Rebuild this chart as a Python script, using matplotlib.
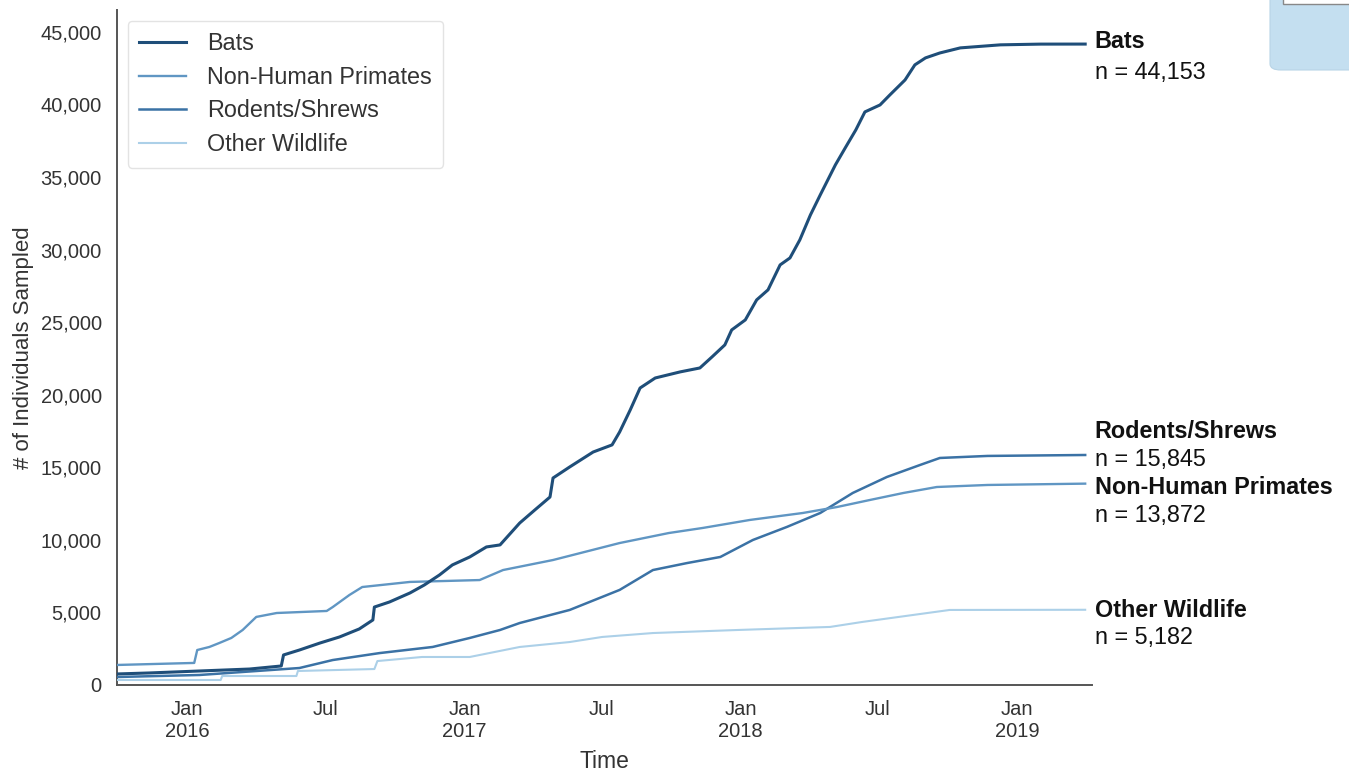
import matplotlib
matplotlib.use("Agg")
import matplotlib.pyplot as plt
from matplotlib.patches import FancyBboxPatch
from matplotlib.ticker import FuncFormatter
import pandas as pd

plt.rcParams['font.family'] = ['Liberation Sans', 'DejaVu Sans']

# ---------------- data ----------------
bats_dates = ['2015-09-30', '2015-11-12', '2016-01-17', '2016-03-23', '2016-05-04', '2016-05-07',
              '2016-05-28', '2016-06-24', '2016-07-20', '2016-08-15', '2016-09-02', '2016-09-04',
              '2016-09-24', '2016-10-21', '2016-11-09', '2016-11-29', '2016-12-16', '2017-01-08',
              '2017-01-30', '2017-02-17', '2017-03-15', '2017-04-04', '2017-04-24', '2017-04-28',
              '2017-05-20', '2017-06-20', '2017-07-15', '2017-07-25', '2017-08-08', '2017-08-21',
              '2017-09-10', '2017-10-13', '2017-11-08', '2017-11-24', '2017-12-11', '2017-12-20',
              '2018-01-07', '2018-01-22', '2018-02-06', '2018-02-22', '2018-03-07', '2018-03-20',
              '2018-04-03', '2018-04-16', '2018-05-06', '2018-05-19', '2018-06-02', '2018-06-14',
              '2018-07-04', '2018-07-17', '2018-08-06', '2018-08-19', '2018-09-02', '2018-09-21',
              '2018-10-18', '2018-12-10', '2019-02-01', '2019-04-01']
bats_values = [760, 830, 965, 1100, 1310, 2070,
               2410, 2890, 3310, 3860, 4480, 5370,
               5720, 6340, 6890, 7580, 8270, 8820,
               9510, 9650, 11160, 12060, 12950, 14260,
               15020, 16050, 16540, 17430, 18950, 20460,
               21150, 21570, 21840, 22600, 23430, 24460,
               25150, 26530, 27220, 28940, 29420, 30660,
               32380, 33760, 35830, 37000, 38240, 39480,
               39960, 40650, 41680, 42720, 43200, 43540,
               43890, 44100, 44150, 44153]

nhp_dates = ['2015-09-30', '2016-01-10', '2016-01-14', '2016-01-30', '2016-02-12', '2016-02-28',
             '2016-03-14', '2016-04-01', '2016-04-28', '2016-07-03', '2016-07-11', '2016-08-02',
             '2016-08-19', '2016-10-21', '2017-01-21', '2017-02-21', '2017-04-28', '2017-07-25',
             '2017-09-28', '2017-11-12', '2018-01-13', '2018-03-24', '2018-05-08', '2018-06-21',
             '2018-08-04', '2018-09-17', '2018-11-23', '2019-04-01']
nhp_values = [1380, 1520, 2410, 2620, 2890, 3240,
              3790, 4690, 4960, 5100, 5370, 6200,
              6750, 7100, 7230, 7920, 8610, 9780,
              10470, 10820, 11370, 11850, 12260, 12750,
              13230, 13640, 13780, 13872]

rod_dates = ['2015-09-30', '2016-01-17', '2016-05-28', '2016-07-11', '2016-09-11', '2016-11-20',
             '2017-01-08', '2017-02-17', '2017-03-15', '2017-05-20', '2017-07-25', '2017-09-07',
             '2017-10-22', '2017-12-05', '2018-01-17', '2018-03-03', '2018-04-16', '2018-05-29',
             '2018-07-13', '2018-08-26', '2018-09-21', '2018-11-23', '2019-04-01']
rod_values = [550, 690, 1170, 1720, 2200, 2620,
              3240, 3790, 4270, 5170, 6550, 7920,
              8400, 8820, 9990, 10890, 11850, 13230,
              14330, 15160, 15640, 15780, 15845]

oth_dates = ['2015-09-30', '2016-02-14', '2016-02-16', '2016-05-24', '2016-05-26', '2016-09-04',
             '2016-09-08', '2016-11-06', '2017-01-08', '2017-03-15', '2017-05-20', '2017-07-02',
             '2017-09-07', '2017-12-28', '2018-04-29', '2018-06-10', '2018-08-16', '2018-10-04',
             '2019-04-01']
oth_values = [345, 345, 620, 620, 965, 1100,
              1650, 1930, 1930, 2620, 2960, 3310,
              3580, 3790, 4000, 4340, 4820, 5170,
              5182]

series_names = ['Bats', 'Non-Human Primates', 'Rodents/Shrews', 'Other Wildlife']
series_totals = ['44,153', '13,872', '15,845', '5,182']

tick_dates = ['2016-01-01', '2016-07-01', '2017-01-01', '2017-07-01',
              '2018-01-01', '2018-07-01', '2019-01-01']
tick_labels = ['Jan\n2016', 'Jul', 'Jan\n2017', 'Jul', 'Jan\n2018', 'Jul', 'Jan\n2019']

# ---------------- style ----------------
colors = ['#1f4e79', '#6096c3', '#3b72a5', '#acd0e8']
widths = [2.2, 1.7, 1.8, 1.5]
# label offsets in points: (name offset, n offset)
label_offsets = [(1.5, -20.5), (-3.0, -23.0), (17.0, -3.5), (-0.5, -20.0)]

fig = plt.figure(figsize=(13.49, 7.70), dpi=100)
ax = fig.add_axes([117 / 1349, 85 / 770, (1092 - 117) / 1349, (685 - 10) / 770])

all_dates = [bats_dates, nhp_dates, rod_dates, oth_dates]
all_values = [bats_values, nhp_values, rod_values, oth_values]

order = [3, 1, 2, 0]
lines = {}
for i in order:
    d = pd.to_datetime(all_dates[i])
    (ln,) = ax.plot(d, all_values[i], color=colors[i], lw=widths[i],
                    label=series_names[i], solid_joinstyle='round', zorder=3 + (3 - i))
    lines[i] = ln

ax.set_xlim(pd.Timestamp('2015-09-30'), pd.Timestamp('2019-04-10'))
ax.set_ylim(0, 46500)

ax.set_yticks(range(0, 45001, 5000))
ax.yaxis.set_major_formatter(FuncFormatter(lambda v, p: f"{int(v):,}"))
ax.set_xticks(pd.to_datetime(tick_dates))
ax.set_xticklabels(tick_labels)
ax.tick_params(axis='both', length=0, labelsize=14.5, colors='#333333')
ax.tick_params(axis='x', pad=11)
ax.tick_params(axis='y', pad=11)

for s in ['top', 'right']:
    ax.spines[s].set_visible(False)
for s in ['left', 'bottom']:
    ax.spines[s].set_color('#555555')
    ax.spines[s].set_linewidth(1.4)

ax.set_xlabel('Time', fontsize=16.5, color='#333333', labelpad=6)
ax.set_ylabel('# of Individuals Sampled', fontsize=16, color='#333333', labelpad=5)

leg = ax.legend(handles=[lines[0], lines[1], lines[2], lines[3]], loc='upper left',
                bbox_to_anchor=(0.011, 0.984), borderaxespad=0, fontsize=16.8,
                frameon=True, fancybox=True,
                handlelength=2.0, handletextpad=0.9, borderpad=0.5, labelspacing=0.45,
                edgecolor='#dddddd')
for t in leg.get_texts():
    t.set_color('#333333')
leg.get_frame().set_linewidth(1.0)

trans = ax.get_yaxis_transform()
for i in range(4):
    v = all_values[i][-1]
    off_name, off_n = label_offsets[i]
    ax.annotate(series_names[i], xy=(1.0, v), xycoords=trans,
                xytext=(2, off_name), textcoords='offset points',
                ha='left', va='center', fontsize=16.8, fontweight='bold', color='#111111',
                annotation_clip=False)
    ax.annotate(f"n = {series_totals[i]}", xy=(1.0, v), xycoords=trans,
                xytext=(2, off_n), textcoords='offset points',
                ha='left', va='center', fontsize=16.8, color='#111111',
                annotation_clip=False)

# decorative slide box in the top-right corner
box = FancyBboxPatch((1270 / 1349, 1 - 70 / 770), 0.2, 0.2,
                     boxstyle="round,pad=0,rounding_size=0.008",
                     transform=fig.transFigure, facecolor='#c4dff0', edgecolor='#b8d4e6',
                     linewidth=0.8, zorder=0)
fig.patches.append(box)
fig.patches.append(plt.Rectangle((1283 / 1349, 1 - 4 / 770), 0.2, 0.2,
                                 transform=fig.transFigure, facecolor='white',
                                 edgecolor='#888888', linewidth=1.0, zorder=1))

fig.savefig('out.png', dpi=100)
